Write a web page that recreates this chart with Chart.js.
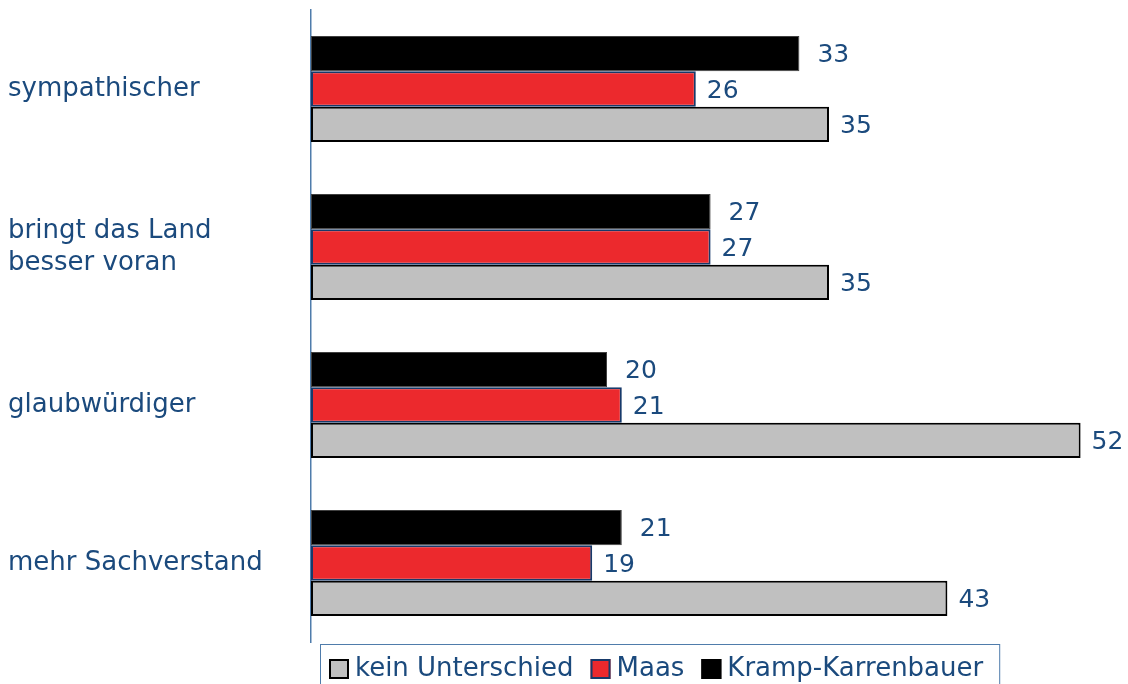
<!DOCTYPE html>
<html>
<head>
<meta charset="utf-8">
<script src="https://cdn.jsdelivr.net/npm/chart.js@4/dist/chart.umd.min.js"></script>
<style>
  html, body { margin: 0; padding: 0; background: #ffffff; }
  #wrap { width: 1128px; height: 684px; position: relative; }
</style>
</head>
<body>
<div id="wrap"><canvas id="c" width="1128" height="684"></canvas></div>
<script>
// ---- data ----
const categories = [
  'sympathischer',
  ['bringt das Land', 'besser voran'],
  'glaubwürdiger',
  'mehr Sachverstand'
];
const seriesNames = ['Kramp-Karrenbauer', 'Maas', 'kein Unterschied'];
const krampValues = [33, 27, 20, 21];
const maasValues = [26, 27, 21, 19];
const keinValues = [35, 35, 52, 43];
const xMin = 0;
const xMax = 55;

// ---- styles ----
const TEXT = '#1b4a7d';
const AXIS = '#4f7cab';
const FONT = 'DejaVu Sans';

const valueLabels = {
  id: 'valueLabels',
  afterDatasetsDraw(chart) {
    const ctx = chart.ctx;
    ctx.save();
    ctx.font = '25px "' + FONT + '"';
    ctx.fillStyle = TEXT;
    ctx.textAlign = 'left';
    ctx.textBaseline = 'middle';
    chart.data.datasets.forEach((ds, di) => {
      const meta = chart.getDatasetMeta(di);
      const off = di === 0 ? 18 : 11;
      meta.data.forEach((el, i) => {
        ctx.fillText(String(ds.data[i]), el.x + off, el.y + 2);
      });
    });
    ctx.restore();
  }
};

const boxLegend = {
  id: 'boxLegend',
  afterDraw(chart) {
    const ctx = chart.ctx;
    ctx.save();
    ctx.font = '26px "' + FONT + '"';
    ctx.textBaseline = 'middle';
    ctx.textAlign = 'left';
    const items = chart.data.datasets.slice().reverse();
    let x = 329;
    const yTop = 659, size = 20, yMid = 669;
    items.forEach((ds) => {
      ctx.fillStyle = ds.backgroundColor;
      ctx.fillRect(x, yTop, size, size);
      ctx.lineWidth = 2;
      ctx.strokeStyle = ds.legendBorder;
      ctx.strokeRect(x + 1, yTop + 1, size - 2, size - 2);
      const tx = x + size + 6;
      ctx.fillStyle = TEXT;
      ctx.fillText(ds.label, tx, yMid);
      x = tx + ctx.measureText(ds.label).width + 17;
    });
    const right = x - 17 + 16;
    ctx.lineWidth = 1;
    ctx.strokeStyle = AXIS;
    ctx.strokeRect(320.5, 644.5, right - 320, 60);
    ctx.restore();
  }
};

new Chart(document.getElementById('c'), {
  type: 'bar',
  data: {
    labels: categories,
    datasets: [
      { label: seriesNames[0], data: krampValues, backgroundColor: '#000000', borderColor: '#404040', legendBorder: '#000000', borderWidth: 1 },
      { label: seriesNames[1], data: maasValues, backgroundColor: '#ec292d', borderColor: '#173a6a', legendBorder: '#173a6a', borderWidth: 2 },
      { label: seriesNames[2], data: keinValues, backgroundColor: '#c0c0c0', borderColor: '#000000', legendBorder: '#000000', borderWidth: 2 }
    ]
  },
  options: {
    indexAxis: 'y',
    responsive: false,
    animation: false,
    devicePixelRatio: 1,
    layout: { padding: { left: 8, top: 10, right: 3, bottom: 42 } },
    datasets: {
      bar: { categoryPercentage: 0.671, barPercentage: 1, borderSkipped: false }
    },
    scales: {
      x: {
        display: false,
        min: xMin,
        max: xMax
      },
      y: {
        grid: { display: false, drawTicks: false },
        border: { display: true, color: AXIS, width: 1.5 },
        ticks: {
          crossAlign: 'far',
          color: TEXT,
          font: { family: FONT, size: 26, lineHeight: 1.23 },
          padding: 0
        },
        afterFit(scale) {
          scale.width = 303;
          scale.paddingTop = 0;
          scale.paddingBottom = 0;
        }
      }
    },
    plugins: {
      legend: { display: false },
      tooltip: { enabled: false }
    }
  },
  plugins: [valueLabels, boxLegend]
});
</script>
</body>
</html>
